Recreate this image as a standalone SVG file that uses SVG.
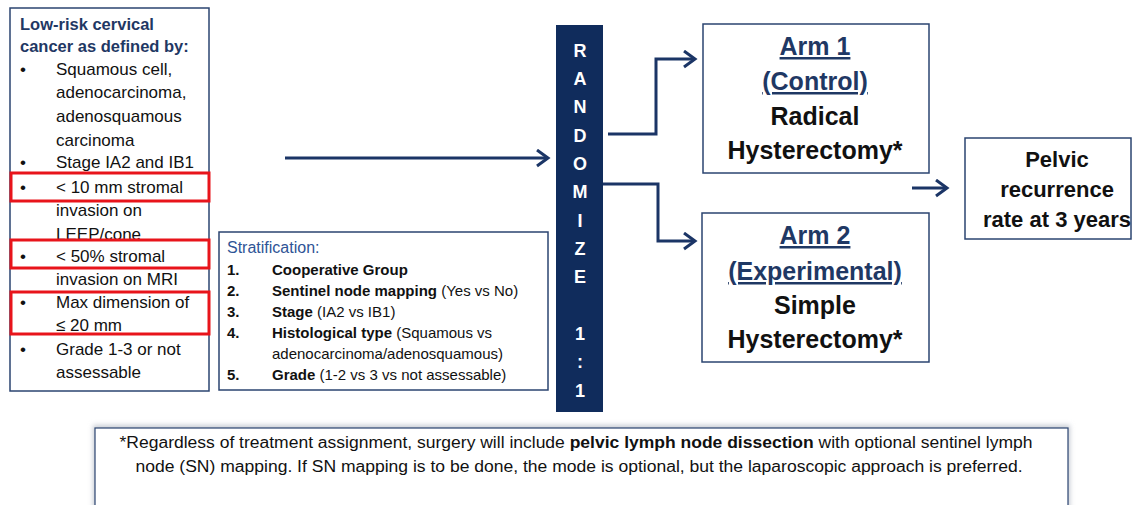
<svg xmlns="http://www.w3.org/2000/svg" width="1133" height="505" viewBox="0 0 1133 505">
  <style>
    text { font-family: "Liberation Sans", Arial, sans-serif; }
    .box { fill: #ffffff; stroke: #2b4470; stroke-width: 1.5; }
    .hl { fill: none; stroke: #e8141b; stroke-width: 3; }
    .wire { fill: none; stroke: #1b3566; stroke-width: 3; }
    .crit { font-size: 17px; fill: #111111; }
    .head { font-size: 16.5px; font-weight: bold; fill: #1f3864; }
    .strat { font-size: 15px; fill: #111111; }
    .arm-title { font-size: 25px; font-weight: bold; fill: #1f3864; text-anchor: middle; text-decoration: underline; }
    .arm-body { font-size: 25px; font-weight: bold; fill: #111111; text-anchor: middle; }
    .rand { font-size: 18px; font-weight: bold; fill: #ffffff; text-anchor: middle; }
    .outcome { font-size: 22px; font-weight: bold; fill: #111111; text-anchor: middle; }
    .note { font-size: 16px; fill: #111111; text-anchor: middle; }
    .b { font-weight: bold; }
  </style>
  <defs>
    <marker id="chev" markerUnits="userSpaceOnUse" markerWidth="16" markerHeight="20" refX="13" refY="9" orient="auto">
      <path d="M2,1 L13,9 L2,17" fill="none" stroke="#1b3566" stroke-width="3"/>
    </marker>
    <filter id="soft" x="-5%" y="-20%" width="110%" height="140%">
      <feGaussianBlur stdDeviation="2.5"/>
    </filter>
  </defs>

  <rect width="1133" height="505" fill="#ffffff"/>

  <!-- Eligibility criteria -->
  <g id="eligibility">
    <rect class="box" x="10" y="8" width="199" height="383"/>
    <text class="head" x="20" y="30">Low-risk cervical</text>
    <text class="head" x="20" y="52">cancer as defined by:</text>
    <g class="crit">
      <text x="20" y="75">•</text><text x="56" y="75">Squamous cell,</text>
      <text x="56" y="98">adenocarcinoma,</text>
      <text x="56" y="122">adenosquamous</text>
      <text x="56" y="146">carcinoma</text>
      <text x="20" y="168">•</text><text x="56" y="168">Stage IA2 and IB1</text>
      <text x="20" y="193">•</text><text x="56" y="193"> &lt; 10 mm stromal</text>
      <text x="56" y="216">invasion on</text>
      <text x="56" y="240">LEEP/cone</text>
      <text x="20" y="262">•</text><text x="56" y="262">&lt; 50% stromal</text>
      <text x="56" y="285">invasion on MRI</text>
      <text x="20" y="308">•</text><text x="56" y="308">Max dimension of</text>
      <text x="56" y="331">≤ 20 mm</text>
      <text x="20" y="355">•</text><text x="56" y="355">Grade 1-3 or not</text>
      <text x="56" y="378">assessable</text>
    </g>
    <rect class="hl" x="11" y="173" width="198" height="28"/>
    <rect class="hl" x="11" y="240" width="198" height="28"/>
    <rect class="hl" x="11" y="292" width="198" height="42"/>
  </g>

  <!-- Stratification factors -->
  <g id="stratification">
    <rect class="box" x="219" y="232" width="329" height="158"/>
    <text x="227" y="253" style="font-size:16px;fill:#2f5496">Stratification:</text>
    <g class="strat">
      <text x="227" y="275" class="b">1.</text>
      <text x="272" y="275"><tspan class="b">Cooperative Group</tspan></text>
      <text x="227" y="296" class="b">2.</text>
      <text x="272" y="296"><tspan class="b">Sentinel node mapping</tspan> (Yes vs No)</text>
      <text x="227" y="317" class="b">3.</text>
      <text x="272" y="317"><tspan class="b">Stage</tspan> (IA2 vs IB1)</text>
      <text x="227" y="338" class="b">4.</text>
      <text x="272" y="338"><tspan class="b">Histological type</tspan> (Squamous vs</text>
      <text x="272" y="359">adenocarcinoma/adenosquamous)</text>
      <text x="227" y="380" class="b">5.</text>
      <text x="272" y="380"><tspan class="b">Grade</tspan> (1-2 vs 3 vs not assessable)</text>
    </g>
  </g>

  <!-- Randomization bar -->
  <g id="randomize">
    <rect x="556" y="25" width="47" height="387" fill="#102c5c"/>
    <text class="rand" x="580" y="57">R</text>
    <text class="rand" x="580" y="85">A</text>
    <text class="rand" x="580" y="113">N</text>
    <text class="rand" x="580" y="142">D</text>
    <text class="rand" x="580" y="170">O</text>
    <text class="rand" x="580" y="198">M</text>
    <text class="rand" x="580" y="227">I</text>
    <text class="rand" x="580" y="255">Z</text>
    <text class="rand" x="580" y="283">E</text>
    <text class="rand" x="580" y="340">1</text>
    <text class="rand" x="580" y="368">:</text>
    <text class="rand" x="580" y="397">1</text>
  </g>

  <!-- Arm 1 -->
  <g id="arm1">
    <rect class="box" x="703" y="24" width="226" height="149"/>
    <text class="arm-title" x="815" y="55">Arm 1</text>
    <text class="arm-title" x="815" y="90">(Control)</text>
    <text class="arm-body" x="815" y="125">Radical</text>
    <text class="arm-body" x="815" y="159">Hysterectomy*</text>
  </g>

  <!-- Arm 2 -->
  <g id="arm2">
    <rect class="box" x="702" y="213" width="227" height="149"/>
    <text class="arm-title" x="815" y="244">Arm 2</text>
    <text class="arm-title" x="815" y="280">(Experimental)</text>
    <text class="arm-body" x="815" y="314">Simple</text>
    <text class="arm-body" x="815" y="348">Hysterectomy*</text>
  </g>

  <!-- Primary endpoint -->
  <g id="endpoint">
    <rect class="box" x="965" y="138" width="166" height="101"/>
    <text class="outcome" x="1057" y="167">Pelvic</text>
    <text class="outcome" x="1057" y="197">recurrence</text>
    <text class="outcome" x="1057" y="227">rate at 3 years</text>
  </g>

  <!-- Connectors -->
  <g id="connectors">
    <path class="wire" d="M285,158 H548" marker-end="url(#chev)"/>
    <path class="wire" d="M608,134 H656 V59 H695" marker-end="url(#chev)"/>
    <path class="wire" d="M603,184 H658 V241 H695" marker-end="url(#chev)"/>
    <path class="wire" d="M912,188 H947" marker-end="url(#chev)"/>
  </g>

  <!-- Footnote -->
  <g id="footnote">
    <rect x="93" y="425" width="977" height="90" fill="#c8ccd4" filter="url(#soft)"/>
    <rect x="95" y="428" width="973" height="90" fill="#ffffff" stroke="#2b4470" stroke-width="1.2"/>
    <text class="note" x="576" y="448" textLength="913" lengthAdjust="spacingAndGlyphs">*Regardless of treatment assignment, surgery will include <tspan class="b">pelvic lymph node dissection</tspan> with optional sentinel lymph</text>
    <text class="note" x="579" y="472" textLength="887" lengthAdjust="spacingAndGlyphs">node (SN) mapping. If SN mapping is to be done, the mode is optional, but the laparoscopic approach is preferred.</text>
  </g>
</svg>
